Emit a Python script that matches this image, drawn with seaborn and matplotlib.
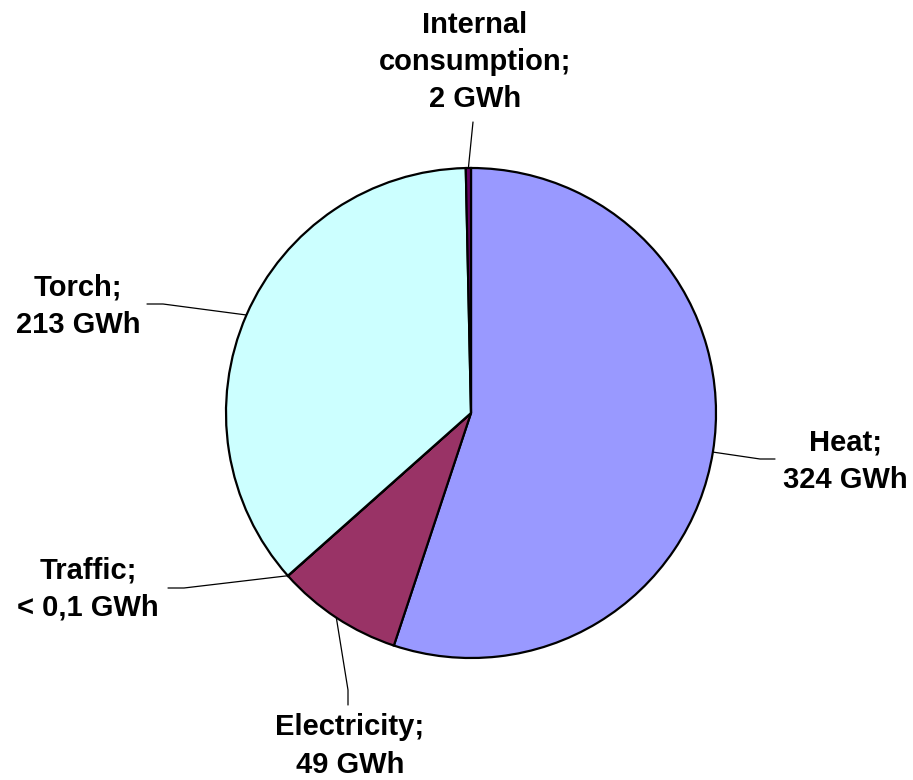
import numpy as np
import matplotlib
matplotlib.use("Agg")
import matplotlib.pyplot as plt
import seaborn as sns

# data
categories = ['Heat', 'Electricity', 'Traffic', 'Torch', 'Internal consumption']
values = [324, 49, 0.05, 213, 2]
label_text = ['Heat;\n324 GWh', 'Electricity;\n49 GWh', 'Traffic;\n< 0,1 GWh',
              'Torch;\n213 GWh', 'Internal\nconsumption;\n2 GWh']
colors = ['#9999FF', '#993366', '#FFFFCC', '#CCFFFF', '#660066']

sns.set_theme(style="white")
plt.rcParams['font.family'] = ['Liberation Sans', 'DejaVu Sans']

W, H = 913, 780
CX, CY, R = 471, 413, 245  # pie centre / radius in pixels


def px(x, y):
    # pixel position -> data units (pie radius = 1)
    return (x - CX) / R, (CY - y) / R


fig = plt.figure(figsize=(W / 100, H / 100), dpi=100)
ax = fig.add_axes([0, 0, 1, 1])
wedges, _ = ax.pie(values, colors=colors, startangle=90, counterclock=False,
                   wedgeprops=dict(edgecolor='black', linewidth=1.6))
ax.set_xlim(-CX / R, (W - CX) / R)
ax.set_ylim((CY - H) / R, CY / R)
ax.set_aspect('equal')
ax.axis('off')

# label layout: text centre, leader elbow, leader end (pixels)
layout = {
    'Heat': ((845, 461), (760, 459), (775, 459)),
    'Electricity': ((350, 746), (348, 690), (348, 705)),
    'Traffic': ((88, 589), (184, 588), (168, 588)),
    'Torch': ((78, 306), (163, 304), (147, 304)),
    'Internal consumption': ((475, 62), (473, 122), (473, 122)),
}

for w, cat, txt in zip(wedges, categories, label_text):
    if cat == 'Traffic':
        ang = np.deg2rad(w.theta1)
    else:
        ang = np.deg2rad((w.theta1 + w.theta2) / 2)
    sx, sy = np.cos(ang), np.sin(ang)
    (tx, ty), elbow, end = layout[cat]
    ex, ey = px(*elbow)
    fx, fy = px(*end)
    ax.plot([sx, ex, fx], [sy, ey, fy], color='black', lw=0.9, clip_on=False)
    ax.text(*px(tx, ty), txt, ha='center', va='center', fontsize=21,
            fontweight='bold', linespacing=1.42, color='black')

fig.savefig('out.png', dpi=100)
